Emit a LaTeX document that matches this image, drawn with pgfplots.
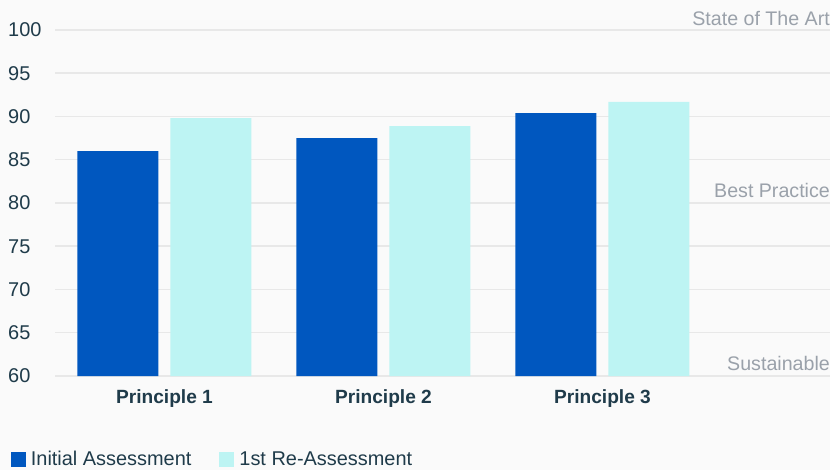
\documentclass[border=0pt]{standalone}
\usepackage{pgfplots}
\pgfplotsset{compat=1.18}
\usepackage{fontspec}
\setmainfont{Liberation Sans}
\definecolor{bgc}{HTML}{FAFAFA}
\definecolor{blueA}{HTML}{0057BF}
\definecolor{cyanB}{HTML}{BDF4F3}
\definecolor{txt}{HTML}{1F3B4A}
\definecolor{gridc}{HTML}{E8E8E8}
\definecolor{lbl}{HTML}{9AA1AA}
\begin{document}
\begin{tikzpicture}
\useasboundingbox[fill=bgc] (0,0) rectangle (830bp,470bp);
\begin{axis}[
  at={(55bp,94bp)}, anchor=south west,
  scale only axis, width=775bp, height=346bp,
  ybar=12bp, bar width=81bp,
  xmin=-0.5, xmax=3.039, ymin=60, ymax=100,
  xtick={0,1,2}, xticklabels={Principle 1,Principle 2,Principle 3},
  ytick={60,65,...,100},
  ymajorgrids, grid style={gridc, line width=1.5bp},
  axis line style={draw=none},
  major tick length=0pt,
  tick label style={font=\fontsize{20}{23}\selectfont, text=txt},
  xticklabel style={font=\fontsize{19.2}{22}\selectfont\bfseries, yshift=-10bp},
  yticklabel style={anchor=west, inner sep=0pt, xshift=-47bp},
  /pgf/number format/assume math mode=true,
  legend columns=2,
  legend style={at={(axis description cs:-0.061,-0.24)}, anchor=west, draw=none, fill=none, font=\fontsize{20}{23}\selectfont, text=txt, /tikz/every even column/.append style={column sep=26bp}},
  clip=false,
]
\addplot[fill=blueA, draw=none, legend image code/.code={\fill[blueA] (0bp,-7.5bp) rectangle (15bp,7.5bp); \path (18bp,0bp);}] coordinates {(0,86.0) (1,87.5) (2,90.4)};
\addplot[fill=cyanB, draw=none, legend image code/.code={\fill[cyanB] (0bp,-7.5bp) rectangle (15bp,7.5bp); \path (18bp,0bp);}] coordinates {(0,89.8) (1,88.9) (2,91.7)};
\legend{Initial Assessment, 1st Re-Assessment}
\node[anchor=base east, inner sep=0pt, text=lbl, font=\fontsize{19.7}{22}\selectfont, yshift=4bp] at (rel axis cs:1,1) {State of The Art};
\node[anchor=base east, inner sep=0pt, text=lbl, font=\fontsize{19.7}{22}\selectfont, yshift=5bp] at (axis cs:3.039,80) {Best Practice};
\node[anchor=base east, inner sep=0pt, text=lbl, font=\fontsize{19.7}{22}\selectfont, yshift=6bp] at (rel axis cs:1,0) {Sustainable};
\end{axis}
\end{tikzpicture}
\end{document}
